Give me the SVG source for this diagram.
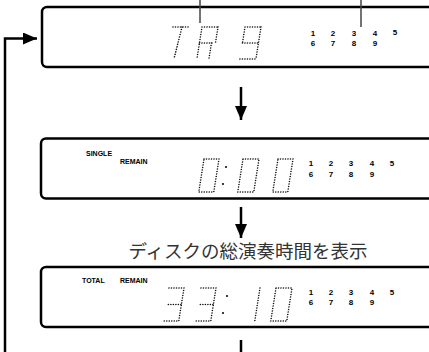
<svg xmlns="http://www.w3.org/2000/svg" width="429" height="352" viewBox="0 0 429 352">
<defs>
  <marker id="ah" viewBox="0 0 14 12" refX="14" refY="6" markerWidth="14" markerHeight="12" markerUnits="userSpaceOnUse" orient="auto">
    <path d="M0,0 L14,6 L0,12 Z" fill="#000"/>
  </marker>
</defs>
<style>
  .box{fill:#fff;stroke:#000;stroke-width:2.5}
  .seg{fill:none;stroke:#111;stroke-width:1.6;stroke-linecap:round;stroke-dasharray:0 2.5}
  .dot{fill:#111}
  .num{font-family:"Liberation Sans",Arial,sans-serif;font-weight:bold;font-size:8px;fill:#000;text-anchor:middle}
  .lbl{font-family:"Liberation Sans",Arial,sans-serif;font-weight:bold;font-size:7px;fill:#000}
  .conn{fill:none;stroke:#000;stroke-width:2.5}
  .tick{stroke:#444;stroke-width:1.5}
  .jp{font-family:"Liberation Sans","Noto Sans CJK JP",sans-serif;font-size:18.5px;fill:#333;text-anchor:middle}
</style>

<g id="connectors">
  <path class="conn" d="M5,352 V38.5 H37" marker-end="url(#ah)"/>
  <path class="conn" d="M241,87 V120" marker-end="url(#ah)"/>
  <path class="conn" d="M241,207 V238" marker-end="url(#ah)"/>
  <path class="conn" d="M241,340 V352"/>
</g>

<g id="display1">
  <rect class="box" x="42" y="7" width="420" height="60" rx="5"/>
  <line class="tick" x1="200" y1="0" x2="200" y2="23"/>
  <line class="tick" x1="361" y1="0" x2="361" y2="27"/>
  <g transform="translate(173,27) skewX(-9)"><path class="seg" d="M0,0H17 M9,0L6,32"/></g>
  <g transform="translate(202,27) skewX(-9)"><path class="seg" d="M0,0H16 M0,0V32 M16,0V16 M0,16H15 M12,16V32"/></g>
  <g transform="translate(245,27) skewX(-9)"><path class="seg" d="M0,0H16 M0,0V16 M16,0V32 M0,16H16 M0,32H16"/></g>
  <text class="num" x="313" y="36">1</text><text class="num" x="333" y="36">2</text><text class="num" x="354" y="36">3</text><text class="num" x="375" y="36">4</text><text class="num" x="395" y="34.5">5</text>
  <text class="num" x="313" y="46">6</text><text class="num" x="333" y="46">7</text><text class="num" x="354" y="46">8</text><text class="num" x="375" y="46">9</text>
</g>

<g id="display2">
  <rect class="box" x="41" y="138.5" width="420" height="60" rx="5"/>
  <text class="lbl" x="86" y="156">SINGLE</text>
  <text class="lbl" x="120" y="164">REMAIN</text>
  <g transform="translate(204,159) skewX(-9)"><path class="seg" d="M0,0H15V33H0Z"/></g>
  <circle class="dot" cx="226" cy="167" r="1.1"/><circle class="dot" cx="223" cy="184" r="1.1"/>
  <g transform="translate(243,159) skewX(-9)"><path class="seg" d="M0,0H16V33H0Z"/></g>
  <g transform="translate(278,159) skewX(-9)"><path class="seg" d="M0,0H15V33H0Z"/></g>
  <text class="num" x="311" y="166">1</text><text class="num" x="331" y="166">2</text><text class="num" x="351" y="166">3</text><text class="num" x="372" y="166">4</text><text class="num" x="392" y="166">5</text>
  <text class="num" x="311" y="177">6</text><text class="num" x="331" y="177">7</text><text class="num" x="351" y="177">8</text><text class="num" x="372" y="177">9</text>
</g>

<text class="jp" x="248" y="258">ディスクの総演奏時間を表示</text>

<g id="display3">
  <rect class="box" x="41" y="267" width="420" height="60" rx="5"/>
  <text class="lbl" x="82" y="283">TOTAL</text>
  <text class="lbl" x="120" y="283">REMAIN</text>
  <g transform="translate(169,288) skewX(-9)"><path class="seg" d="M0,0H15V33H0 M2,16.5H15"/></g>
  <g transform="translate(201,288) skewX(-9)"><path class="seg" d="M0,0H15V33H0 M2,16.5H15"/></g>
  <circle class="dot" cx="227" cy="296" r="1.1"/><circle class="dot" cx="223" cy="313" r="1.1"/>
  <g transform="translate(260,288) skewX(-9)"><path class="seg" d="M0,0V33"/></g>
  <g transform="translate(276,288) skewX(-9)"><path class="seg" d="M0,0H16V33H0Z"/></g>
  <text class="num" x="311" y="295">1</text><text class="num" x="331" y="295">2</text><text class="num" x="351" y="295">3</text><text class="num" x="372" y="295">4</text><text class="num" x="392" y="295">5</text>
  <text class="num" x="311" y="305">6</text><text class="num" x="331" y="305">7</text><text class="num" x="351" y="305">8</text><text class="num" x="372" y="305">9</text>
</g>
</svg>
